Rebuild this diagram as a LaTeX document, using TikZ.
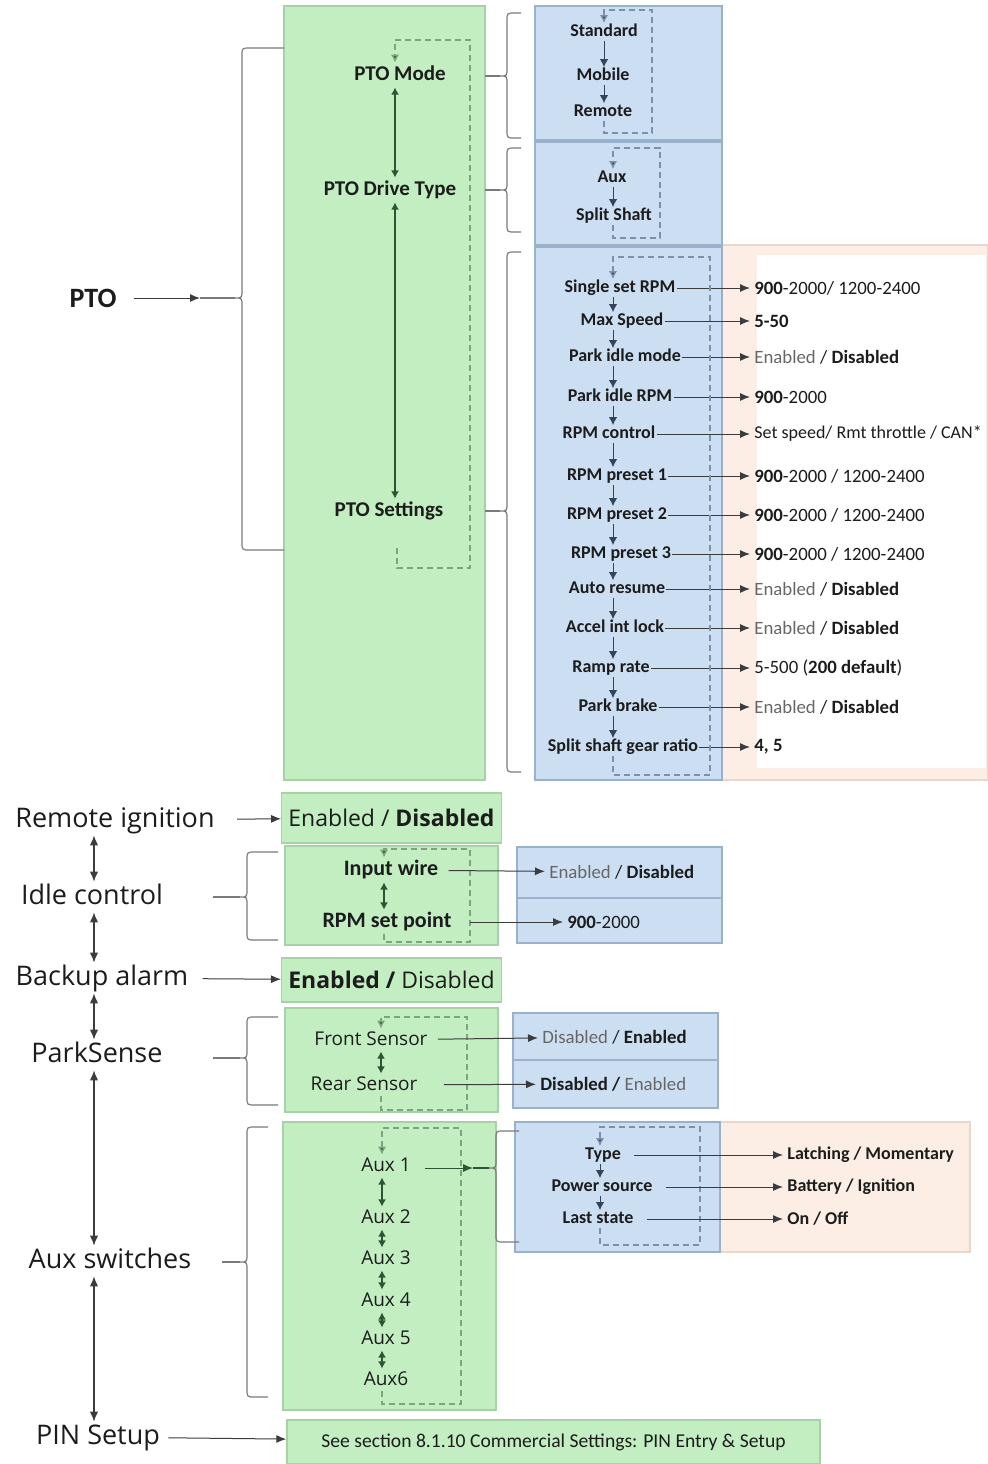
\documentclass[tikz,border=0pt]{standalone}
\usepackage{fontspec}
\setmainfont{Carlito}
\newfontfamily\segoe{Open Sans}
\usetikzlibrary{arrows.meta}

\definecolor{grn}{HTML}{C2EEC2}
\definecolor{grnline}{HTML}{A6D2A6}
\definecolor{blu}{HTML}{CCDEF2}
\definecolor{bluline}{HTML}{9AB1CC}
\definecolor{pch}{HTML}{FCEEE4}
\definecolor{pchline}{HTML}{EBD7C9}
\definecolor{ink}{HTML}{1C1C1C}
\definecolor{faint}{HTML}{666666}
\definecolor{dkgreen}{HTML}{2A5634}
\definecolor{lnk}{HTML}{3C3C3C}
\definecolor{brgray}{HTML}{7A7A7A}
\definecolor{nxtc}{HTML}{34445A}
\definecolor{gdash}{HTML}{7FA27F}
\definecolor{bdash}{HTML}{7C90AA}

\newcommand{\dimtxt}[1]{\textcolor{faint}{#1}}
% name, x, top, tip, bottom, end x
\newcommand{\curlybr}[6]{%
  \coordinate (#1) at ({#2-7},#4);
  \draw[bracket] (#6,#3) -- ({#2+8},#3) .. controls (#2,#3) .. (#2,{#3+8})
    -- (#2,{#4-8}) .. controls (#2,#4) .. (#1) .. controls (#2,#4) .. (#2,{#4+8})
    -- (#2,{#5-8}) .. controls (#2,#5) .. ({#2+8},#5) -- (#6,#5);}

\begin{document}
\begin{tikzpicture}[x=0.5pt,y=-0.5pt,
    gbox/.style={draw=grnline,fill=grn,line width=0.7pt},
    bbox/.style={draw=bluline,fill=blu,line width=0.7pt},
    pbox/.style={draw=pchline,fill=pch,line width=0.7pt},
    bracket/.style={draw=brgray,line width=0.6pt},
    conn/.style={draw=lnk,line width=0.5pt,-{Latex[length=5pt,width=4pt]}},
    both/.style={draw=dkgreen,line width=0.7pt,{Latex[length=3.6pt,width=4pt]}-{Latex[length=3.6pt,width=4pt]}},
    lboth/.style={draw=lnk,line width=0.6pt,{Latex[length=5pt,width=4.2pt]}-{Latex[length=5pt,width=4.2pt]}},
    nxt/.style={draw=nxtc,line width=0.5pt,-{Latex[length=4pt,width=4.2pt]}},
    gcycle/.style={draw=gdash,line width=0.7pt,densely dashed,-{Latex[length=4pt,width=4.2pt,fill=dkgreen]}},
    bcycle/.style={draw=bdash,line width=0.7pt,densely dashed,-{Latex[length=4pt,width=4.2pt,fill=nxtc]}},
    item/.style={font=\fontsize{9}{10}\selectfont\bfseries,text=ink,inner sep=0.5pt,text height=6pt,text depth=1.5pt},
    val/.style={font=\fontsize{9.4}{10}\selectfont,text=ink,anchor=west,inner sep=2pt},
    menu/.style={font=\fontsize{10.5}{12}\selectfont\bfseries,text=ink,inner sep=1pt,text height=7.5pt,text depth=2.5pt},
    head/.style={font=\segoe\fontsize{13.5}{15}\selectfont,text=ink,inner sep=1pt,text height=10pt,text depth=3pt},
    sub/.style={font=\segoe\fontsize{9.5}{11}\selectfont,text=ink,inner sep=1pt,text height=7pt,text depth=2pt},
    subb/.style={font=\fontsize{11}{12}\selectfont\bfseries,text=ink,inner sep=1pt,text height=7.5pt,text depth=2.5pt},
    opt/.style={font=\segoe\fontsize{11.5}{13}\selectfont,text=ink}]
    \useasboundingbox (0,0) rectangle (988,1464);

    % panels
    \draw[gbox] (284,6) rectangle (485,780);
    \draw[pbox] (722,245) rectangle (988,780);
    \fill[white] (757,255) rectangle (986,768);
    \draw[bbox] (535,6) rectangle (722,140);
    \draw[bbox] (535,142) rectangle (722,245);
    \draw[bbox] (535,247) rectangle (722,780);
    \draw[gbox] (285,846) rectangle (498,945);
    \draw[bbox] (517,847) rectangle (722,898);
    \draw[bbox] (517,898) rectangle (722,943);
    \draw[gbox] (285,1008) rectangle (498,1112);
    \draw[bbox] (513,1013) rectangle (718,1060);
    \draw[bbox] (513,1060) rectangle (718,1108);
    \draw[gbox] (283,1122) rectangle (496,1410);
    \draw[pbox] (720,1122) rectangle (970,1252);
    \draw[bbox] (515,1122) rectangle (720,1252);

    \coordinate (axg) at (395,0);
    \coordinate (ax1) at (604,0);
    \coordinate (ax2) at (613,0);
    \coordinate (ax3) at (613,0);
    \coordinate (axi) at (384,0);
    \coordinate (axp) at (381,0);
    \coordinate (axa) at (382,0);
    \coordinate (axb) at (600,0);
    \coordinate (axl) at (94,0);
    \coordinate (gedge) at (485,0);

    % PTO
    \node[font=\fontsize{14}{16}\selectfont\bfseries,text=ink] (pto) at (93,298) {PTO};
    \curlybr{ptotip}{242}{48}{298}{550}{284}
    \coordinate (ptomid) at (200,298);
    \draw[conn,shorten <=5pt] (pto) -- (ptomid);
    \draw[bracket] (ptomid) -- (ptotip);

    \node[menu] (mode) at (400,75) {PTO Mode};
    \node[menu] (drive) at (390,190) {PTO Drive Type};
    \node[menu] (sett) at (389,511) {PTO Settings};
    \draw[both] (mode.south -| axg) -- (drive.north -| axg);
    \draw[both] (drive.south -| axg) -- (sett.north -| axg);
    \coordinate (gstart) at (397,548);
    \draw[gcycle] (gstart) |- (470,568) -- (470,40) -| (mode.north -| axg);

    \curlybr{tip1}{507}{13}{76}{138}{521}
    \curlybr{tip2}{507}{148}{190}{232}{521}
    \curlybr{tip3}{507}{252}{511}{772}{521}
    \draw[bracket] (tip1 -| gedge) -- (tip1);
    \draw[bracket] (tip2 -| gedge) -- (tip2);
    \draw[bracket] (tip3 -| gedge) -- (tip3);

    \node[item] (standard) at (604,32) {Standard};
    \node[item] (mobile) at (603,76) {Mobile};
    \node[item] (remote) at (603,112) {Remote};
    \draw[nxt] (standard.south -| ax1) -- (mobile.north -| ax1);
    \draw[nxt] (mobile.south -| ax1) -- (remote.north -| ax1);
    \draw[bcycle] (remote.south -| ax1) |- (652,133) -- (652,10) -| (standard.north -| ax1);

    \node[item] (aux) at (612,178) {Aux};
    \node[item] (shaft) at (614,216) {Split Shaft};
    \draw[nxt] (aux.south -| ax2) -- (shaft.north -| ax2);
    \draw[bcycle] (shaft.south -| ax2) |- (660,238) -- (660,148) -| (aux.north -| ax2);

    \foreach \x/\y/\nm/\txt/\vl in {
        620/288/s1/Single set RPM/{\textbf{900}-2000/ 1200-2400},
        622/321/s2/Max Speed/{\textbf{5-50}},
        625/357/s3/Park idle mode/{\dimtxt{Enabled} / \textbf{Disabled}},
        620/397/s4/Park idle RPM/{\textbf{900}-2000},
        609/434/s5/RPM control/{\fontsize{9}{10}\selectfont Set speed/ Rmt throttle / CAN*},
        617/476/s6/RPM preset 1/{\textbf{900}-2000 / 1200-2400},
        617/515/s7/RPM preset 2/{\textbf{900}-2000 / 1200-2400},
        621/554/s8/RPM preset 3/{\textbf{900}-2000 / 1200-2400},
        617/589/s9/Auto resume/{\dimtxt{Enabled} / \textbf{Disabled}},
        615/628/s10/Accel int lock/{\dimtxt{Enabled} / \textbf{Disabled}},
        611/668/s11/Ramp rate/{5-500 (\textbf{200 default})},
        618/707/s12/Park brake/{\dimtxt{Enabled} / \textbf{Disabled}},
        623/747/s13/Split shaft gear ratio/{\textbf{4, 5}}} {
        \node[item] (\nm) at (\x,\y) {\txt};
        \node[val] (v\nm) at (750,\y) {\vl};
        \draw[conn] (\nm) -- (v\nm);
    }
    \foreach \i [evaluate=\i as \j using int(\i+1)] in {1,...,12}
        \draw[nxt] (s\i.south -| ax3) -- (s\j.north -| ax3);
    \draw[bcycle] (s13.south -| ax3) |- (710,775) -- (710,257) -| (s1.north -| ax3);

    % Remote ignition
    \node[head] (remign) at (115,820) {Remote ignition};
    \node[gbox,opt,minimum width=106.5pt,minimum height=25pt] (riopt) at (391.5,818) {Enabled / \textbf{Disabled}};
    \draw[conn,shorten <=10pt] (remign) -- (riopt);

    % Idle control
    \node[head] (idle) at (92,897) {Idle control};
    \curlybr{itip}{247}{852}{897}{940}{278}
    \coordinate (istart) at (213,897);
    \draw[bracket] (istart) -- (itip);
    \node[subb] (inwire) at (391,870) {Input wire};
    \node[subb] (rpmsp) at (387,922) {RPM set point};
    \draw[both] (inwire.south -| axi) -- (rpmsp.north -| axi);
    \draw[gcycle] (rpmsp.south -| axi) |- (470,942) -- (470,849) -| (inwire.north -| axi);
    \node[val] (vinwire) at (545,872) {\dimtxt{Enabled} / \textbf{Disabled}};
    \node[val] (vrpmsp) at (563,922) {\textbf{900}-2000};
    \draw[conn,shorten <=4pt] (inwire) -- (vinwire);
    \draw[conn,shorten <=8pt] (rpmsp) -- (vrpmsp);

    % Backup alarm
    \node[head] (backup) at (102,978) {Backup alarm};
    \node[gbox,opt,minimum width=106.5pt,minimum height=22pt] (baopt) at (391.5,980) {\textbf{Enabled /} Disabled};
    \draw[conn,shorten <=6pt] (backup) -- (baopt);

    % ParkSense
    \node[head] (park) at (97,1055) {ParkSense};
    \curlybr{ptip}{247}{1017}{1058}{1105}{278}
    \coordinate (pstart) at (213,1058);
    \draw[bracket] (pstart) -- (ptip);
    \node[sub] (front) at (371,1040) {Front Sensor};
    \node[sub] (rear) at (364,1085) {Rear Sensor};
    \draw[both] (front.south -| axp) -- (rear.north -| axp);
    \draw[gcycle] (rear.south -| axp) |- (467,1110) -- (467,1017) -| (front.north -| axp);
    \node[val] (vfront) at (538,1037) {\dimtxt{Disabled} / \textbf{Enabled}};
    \node[val] (vrear) at (536,1084) {\textbf{Disabled /} \dimtxt{Enabled}};
    \draw[conn,shorten <=4pt] (front) -- (vfront);
    \draw[conn,shorten <=12pt] (rear) -- (vrear);

    % Aux switches
    \node[head] (auxsw) at (110,1261) {Aux switches};
    \curlybr{atip}{247}{1127}{1262}{1397}{268}
    \coordinate (astart) at (222,1262);
    \draw[bracket] (astart) -- (atip);
    \foreach \y/\nm/\txt in {1166/a1/Aux 1, 1218/a2/Aux 2, 1259/a3/Aux 3,
        1301/a4/Aux 4, 1339/a5/Aux 5, 1380/a6/Aux6}
        \node[sub] (\nm) at (386,\y) {\txt};
    \foreach \i [evaluate=\i as \j using int(\i+1)] in {1,...,5}
        \draw[both] (a\i.south -| axa) -- (a\j.north -| axa);
    \draw[gcycle] (a6.south -| axa) |- (461,1404) -- (461,1128) -| (a1.north -| axa);

    \curlybr{a1tip}{496}{1131}{1168}{1242}{519}
    \coordinate (a1mid) at (473,1168);
    \draw[conn,draw=dkgreen,shorten <=6pt] (a1.east |- a1mid) -- (a1mid);
    \draw[bracket,draw=dkgreen] (a1mid) -- (a1tip);

    \node[item] (type) at (603,1155) {Type};
    \node[item] (power) at (602,1187) {Power source};
    \node[item] (last) at (598,1219) {Last state};
    \draw[nxt] (type.south -| axb) -- (power.north -| axb);
    \draw[nxt] (power.south -| axb) -- (last.north -| axb);
    \draw[bcycle] (last.south -| axb) |- (700,1245) -- (700,1127) -| (type.north -| axb);
    \node[val,font=\fontsize{9}{10}\selectfont\bfseries] (vtype) at (783,1155) {Latching / Momentary};
    \node[val,font=\fontsize{9}{10}\selectfont\bfseries] (vpower) at (783,1187) {Battery / Ignition};
    \node[val,font=\fontsize{9}{10}\selectfont\bfseries] (vlast) at (783,1219) {On / Off};
    \draw[conn,shorten <=6pt] (type) -- (vtype);
    \draw[conn,shorten <=6pt] (power) -- (vpower);
    \draw[conn,shorten <=6pt] (last) -- (vlast);

    % PIN Setup
    \node[head] (pin) at (98,1437) {PIN Setup};
    \node[gbox,font=\fontsize{9.8}{11}\selectfont,text=ink,minimum width=266.5pt,minimum height=22pt] (pinopt) at (553.5,1442) {See section 8.1.10 Commercial Settings: PIN Entry \& Setup};
    \draw[conn,shorten <=3pt] (pin) -- (pinopt);

    % left column
    \draw[lboth] (remign.south -| axl) -- (idle.north -| axl);
    \draw[lboth] (idle.south -| axl) -- (backup.north -| axl);
    \draw[lboth] (backup.south -| axl) -- (park.north -| axl);
    \draw[lboth] (park.south -| axl) -- (auxsw.north -| axl);
    \draw[lboth] (auxsw.south -| axl) -- (pin.north -| axl);
\end{tikzpicture}
\end{document}
